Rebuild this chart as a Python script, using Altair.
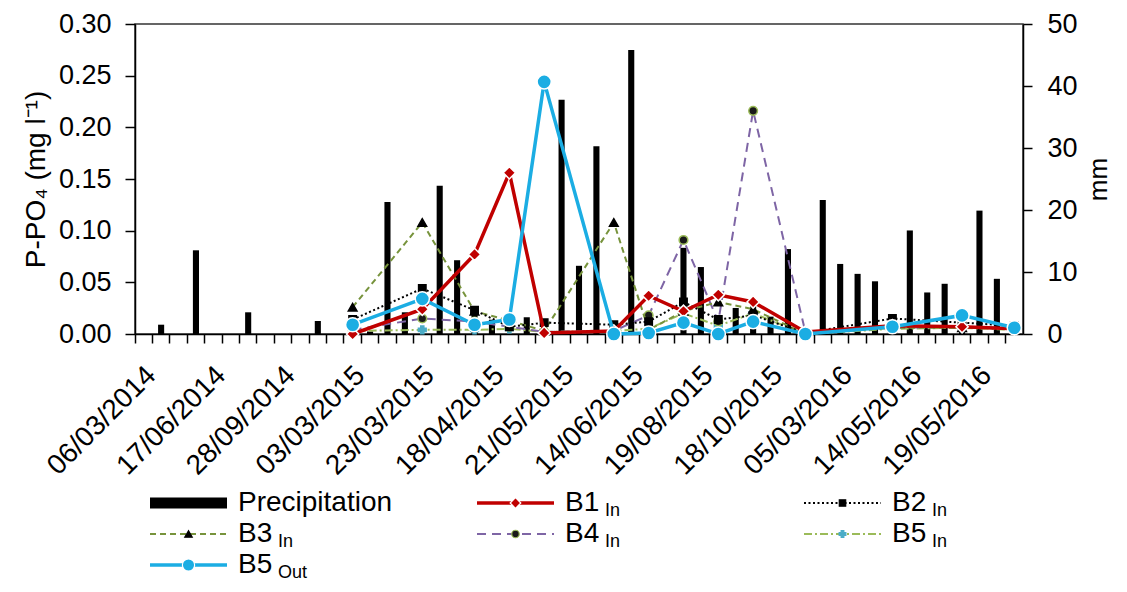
import json
import altair as alt
import pandas as pd

# ---------------- data ----------------
tick_labels = ["06/03/2014", "17/06/2014", "28/09/2014", "03/03/2015", "23/03/2015",
               "18/04/2015", "21/05/2015", "14/06/2015", "19/08/2015", "18/10/2015",
               "05/03/2016", "14/05/2016", "19/05/2016"]
n_slots = 51
label_every = 4

precip_mm = [0, 1.5, 0, 13.5, 0, 0, 3.5, 0, 0, 0,
             2.1, 0, 0, 0.4, 21.3, 3.5, 0, 23.9, 11.9, 4.1,
             2.3, 0, 2.7, 2.2, 37.8, 11.0, 30.3, 1.8, 45.8, 0,
             0, 13.9, 10.8, 1.0, 4.2, 4.5, 2.8, 13.7, 0, 21.6,
             11.3, 9.7, 8.5, 2.8, 16.7, 6.7, 8.1, 2.0, 19.9, 8.9, 0]

sample_slots = [12, 16, 19, 21, 23, 27, 29, 31, 33, 35, 38, 43, 47, 50]
b1_in = [0.000, 0.024, 0.077, 0.156, 0.001, 0.003, 0.037, 0.022, 0.038, 0.031, 0.002, 0.008, 0.007, 0.005]
b2_in = [0.014, 0.044, 0.023, 0.007, 0.011, 0.009, 0.012, 0.031, 0.014, 0.018, 0.001, 0.015, 0.011, 0.008]
b3_in = [0.026, 0.108, 0.022, 0.013, 0.003, 0.108, 0.004, 0.022, 0.031, 0.024, 0.000, 0.006, 0.006, 0.005]
b4_in = [0.004, 0.015, 0.012, 0.007, 0.002, 0.003, 0.018, 0.091, 0.012, 0.216, 0.002, 0.006, 0.007, 0.006]
b5_in = [0.003, 0.004, 0.004, 0.005, 0.002, 0.003, 0.005, 0.020, 0.008, 0.020, 0.000, 0.005, 0.006, 0.004]
b5_out = [0.009, 0.034, 0.009, 0.014, 0.244, 0.000, 0.001, 0.011, 0.000, 0.012, 0.000, 0.007, 0.018, 0.006]

series_keys = ["B1 In", "B2 In", "B3 In", "B4 In", "B5 In", "B5 Out"]
series_values = [b1_in, b2_in, b3_in, b4_in, b5_in, b5_out]

legend_keys = ["Precipitation"] + series_keys
legend_names = ["Precipitation", "B1", "B2", "B3", "B4", "B5", "B5"]
legend_subs = ["", "In", "In", "In", "In", "In", "Out"]

# ---------------- styles ----------------
styles = {
    "B1 In": dict(color="#C00000", width=3.5, shape="diamond", fill="#C00000", stroke="#FFFFFF", size=150),
    "B2 In": dict(color="#000000", dash=[2, 2.5], width=2, shape="square", fill="#000000", stroke="#000000", size=55),
    "B3 In": dict(color="#77933C", dash=[6, 4], width=2, shape="triangle-up", fill="#000000", stroke="#000000", size=75),
    "B4 In": dict(color="#7E65A5", dash=[9, 6], width=2, shape="circle", fill="#1A1A1A", stroke="#9BBB59", size=75),
    "B5 In": dict(color="#9BBB59", dash=[8, 3, 2, 3], width=2, shape="cross", fill="#4BACC6", stroke="#4BACC6", size=60),
    "B5 Out": dict(color="#1BADE3", width=3.5, shape="circle", fill="#1BADE3", stroke="#FFFFFF", size=200),
}
draw_order = ["B5 In", "B4 In", "B3 In", "B2 In", "B1 In", "B5 Out"]

FONT = "Liberation Sans"
W, H = 888, 310
TOP = 16

# ---------------- tables ----------------
precip_df = pd.DataFrame({"slot": list(range(n_slots)), "mm": precip_mm})
rows = []
for key, vals in zip(series_keys, series_values):
    for s, v in zip(sample_slots, vals):
        rows.append({"slot": s, "series": key, "value": v})
line_df = pd.DataFrame(rows)
leg_df = pd.DataFrame({
    "key": legend_keys,
    "name": legend_names,
    "sub": legend_subs,
    "col": [i % 3 for i in range(len(legend_keys))],
    "row": [i // 3 for i in range(len(legend_keys))],
})

# ---------------- main chart ----------------
x_scale = alt.Scale(type="band", domain=list(range(n_slots)), paddingInner=0, paddingOuter=0)
label_expr = ("datum.value % " + str(label_every) + " == 0 ? " + json.dumps(tick_labels)
              + "[datum.value / " + str(label_every) + "] : ''")
x_axis = alt.Axis(title=None, bandPosition=0, labelExpr=label_expr, labelAngle=315,
                  labelAlign="right", labelBaseline="top", labelOffset=-2,
                  labelPadding=18, labelOverlap=False, tickSize=9, labelFontSize=28)

left_axis = alt.Axis(title="P-PO\u2084 (mg l\u207b\u00b9)", values=[0, 0.05, 0.10, 0.15, 0.20, 0.25, 0.30],
                     format=".2f", tickSize=10, labelPadding=14, titlePadding=8, orient="left",
                     labelFontSize=27)
right_axis = alt.Axis(title="mm", values=[0, 10, 20, 30, 40, 50], tickSize=9, labelPadding=15,
                      titlePadding=8, orient="right", titleAngle=270, titleBaseline="top",
                      labelFontSize=27, titleFontSize=26)

bars = alt.Chart(precip_df).mark_bar(color="black", width=alt.RelativeBandSize(0.35)).encode(
    x=alt.X("slot:O", scale=x_scale, axis=x_axis),
    y=alt.Y("mm:Q", scale=alt.Scale(domain=[0, 50], nice=False), axis=right_axis),
)

y_line = alt.Scale(domain=[0, 0.30], nice=False)
line_layers = []
for key in draw_order:
    st = styles[key]
    lk = dict(color=st["color"], strokeWidth=st["width"])
    if "dash" in st:
        lk["strokeDash"] = st["dash"]
    base = alt.Chart(line_df).transform_filter(alt.datum.series == key)
    enc = dict(x=alt.X("slot:O", scale=x_scale, axis=x_axis),
               y=alt.Y("value:Q", scale=y_line, axis=left_axis))
    line_layers.append(base.mark_line(**lk).encode(**enc))
    line_layers.append(base.mark_point(shape=st["shape"], filled=True, fill=st["fill"], stroke=st["stroke"],
                                       strokeWidth=1.5, size=st["size"], opacity=1).encode(**enc))
lines = alt.layer(*line_layers)

main = alt.layer(bars, lines).resolve_scale(y="independent")

# ---------------- legend ----------------
lx = alt.X("col:Q", scale=alt.Scale(domain=[0, 3], range=[15, 15 + 3 * 327]), axis=None)
ly = alt.Y("row:Q", scale=alt.Scale(domain=[0, 2], range=[479, 541]), axis=None)
leg_base = alt.Chart(leg_df)
leg_layers = [
    leg_base.transform_filter(alt.datum.key == "Precipitation").mark_rule(
        color="black", strokeWidth=11, strokeCap="butt", x2Offset=77).encode(x=lx, x2="col:Q", y=ly)
]
for key in series_keys:
    st = styles[key]
    rk = dict(color=st["color"], strokeWidth=st["width"], x2Offset=77)
    if "dash" in st:
        rk["strokeDash"] = st["dash"]
    b = leg_base.transform_filter(alt.datum.key == key)
    leg_layers.append(b.mark_rule(**rk).encode(x=lx, x2="col:Q", y=ly))
    leg_layers.append(b.mark_point(shape=st["shape"], filled=True, fill=st["fill"], stroke=st["stroke"],
                                   strokeWidth=1.2, size=st["size"] * 0.75, opacity=1,
                                   xOffset=38.5).encode(x=lx, y=ly))
leg_layers.append(leg_base.mark_text(dx=88, align="left", baseline="middle", fontSize=28,
                                     font=FONT, color="black").encode(x=lx, y=ly, text="name:N"))
leg_layers.append(leg_base.mark_text(dx=128, dy=8, align="left", baseline="middle", fontSize=18,
                                     font=FONT, color="black").encode(x=lx, y=ly, text="sub:N"))
legend = alt.layer(*leg_layers)

chart = alt.layer(main, legend).resolve_scale(x="independent", y="independent").properties(
    width=W, height=H,
    autosize=alt.AutoSizeParams(type="none"),
    padding={"left": 127, "top": TOP, "right": 96, "bottom": 576 - TOP - H},
).configure(font=FONT).configure_view(
    stroke="#333333", strokeWidth=1.5
).configure_axis(
    grid=False, domainColor="black", domainWidth=1.5, tickColor="black", tickWidth=1.5,
    labelColor="black", titleColor="black", labelFontSize=28, titleFontSize=28,
    titleFontWeight="normal", labelFont=FONT, titleFont=FONT,
)

chart.save("out.html", embed_options={"renderer": "svg", "actions": False})
